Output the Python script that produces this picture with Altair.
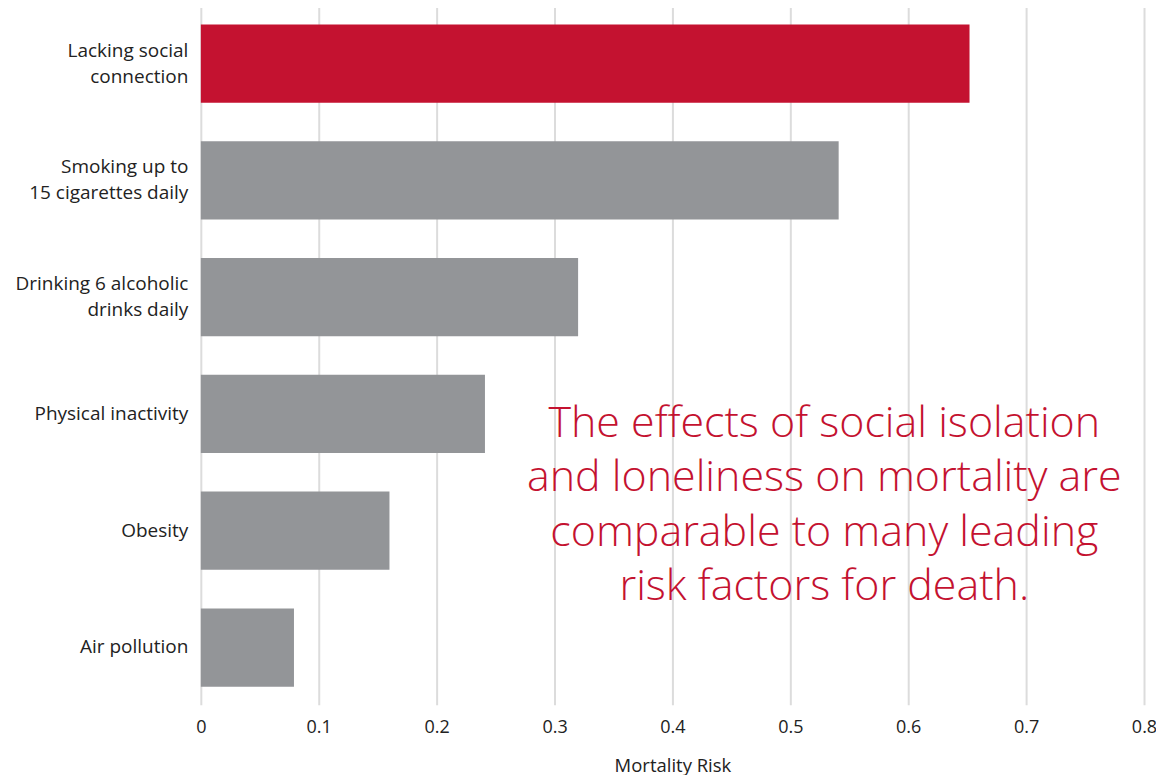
import altair as alt
import pandas as pd

categories = ["Lacking social|connection", "Smoking up to|15 cigarettes daily",
              "Drinking 6 alcoholic|drinks daily", "Physical inactivity",
              "Obesity", "Air pollution"]
values = [0.652, 0.541, 0.32, 0.241, 0.16, 0.079]
highlight = [True, False, False, False, False, False]
x_ticks = [0, 0.1, 0.2, 0.3, 0.4, 0.5, 0.6, 0.7, 0.8]
note_lines = ["The effects of social isolation", "and loneliness on mortality are",
              "comparable to many leading", "risk factors for death."]

df = pd.DataFrame({"factor": categories, "risk": values, "hl": highlight})
FONT = "Open Sans"

bars = alt.Chart(df).mark_bar().encode(
    x=alt.X("risk:Q", scale=alt.Scale(domain=[0, 0.8], nice=False),
            axis=alt.Axis(values=x_ticks, title="Mortality Risk", grid=True,
                          gridColor="#dcdcdc", gridWidth=2, domain=False, ticks=False,
                          labelFontSize=18, labelColor="#222", labelPadding=14,
                          labelFlush=False,
                          labelFont=FONT, titleFont=FONT, titleFontSize=18.5,
                          titleFontWeight="normal", titleColor="#222", titlePadding=20,
                          labelExpr="datum.value == 0 ? '0' : format(datum.value, '.1f')")),
    y=alt.Y("factor:N", sort=categories, scale=alt.Scale(paddingInner=0.33, paddingOuter=0.155),
            axis=alt.Axis(title=None, domain=False, ticks=False, grid=False,
                          labelFontSize=19, labelColor="#222", labelPadding=13,
                          labelFont=FONT, labelLineHeight=26, labelLimit=250,
                          labelOffset={"condition": {"test": "indexof(datum.value, '|') >= 0",
                                                     "value": -13}, "value": 0},
                          labelExpr="split(datum.label, '|')")),
    color=alt.Color("hl:N", scale=alt.Scale(domain=[True, False], range=["#c41230", "#939598"]),
                    legend=None),
)

note_df = pd.DataFrame({"line": note_lines, "i": list(range(len(note_lines)))})
note = alt.Chart(note_df).mark_text(
    font=FONT, fontSize=43, fontWeight=300, color="#c41230", align="center",
    baseline="alphabetic"
).encode(
    x=alt.value(624),
    y=alt.Y("i:Q", scale=alt.Scale(domain=[0, 3], range=[431, 594]), axis=None),
    text="line:N",
)

chart = alt.layer(bars, note).resolve_scale(y="independent").properties(
    width=944, height=699,
    padding={"left": 193, "top": -2, "right": 12, "bottom": 70},
    autosize=alt.AutoSizeParams(type="none"),
).configure_view(stroke=None)

chart.save("out.html", embed_options={"renderer": "svg", "actions": False})
